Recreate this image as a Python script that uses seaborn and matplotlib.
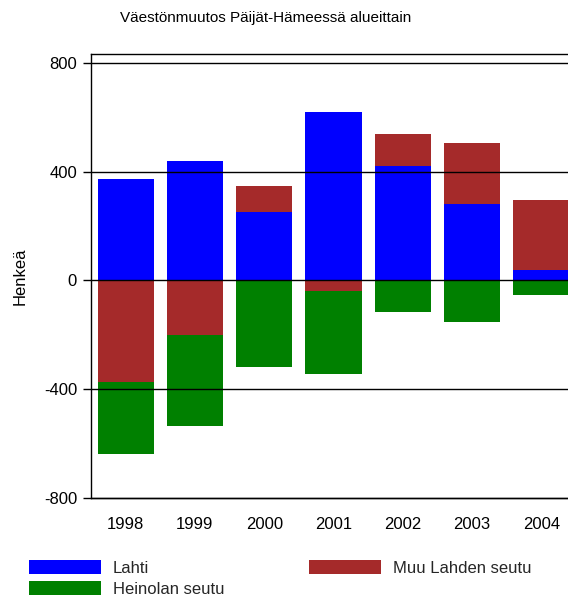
import numpy as np
import pandas as pd
import matplotlib
matplotlib.use("Agg")
import matplotlib.pyplot as plt
import seaborn as sns
from matplotlib.patches import Patch

years = ["1998", "1999", "2000", "2001", "2002", "2003", "2004"]
lahti = [372, 440, 253, 620, 422, 283, 37]
muu = [-374, -202, 96, -40, 117, 223, 260]
heinola = [-265, -334, -319, -305, -117, -154, -55]

series_names = ["Lahti", "Muu Lahden seutu", "Heinolan seutu"]
colors = {"Lahti": "#0000FF", "Muu Lahden seutu": "#A52A2A", "Heinolan seutu": "#008000"}

sns.set_theme(style="white")
plt.rcParams['font.family'] = ['Liberation Sans', 'DejaVu Sans']
plt.rcParams['axes.unicode_minus'] = False

W, H = 568, 599
fig = plt.figure(figsize=(W / 100, H / 100), dpi=100)
ax_left, ax_right, ax_top, ax_bottom = 91, 576, 54, 498
ax = fig.add_axes([ax_left / W, 1 - ax_bottom / H, (ax_right - ax_left) / W, (ax_bottom - ax_top) / H])

lahti_a = np.array(lahti, dtype=float)
muu_a = np.array(muu, dtype=float)
hei_a = np.array(heinola, dtype=float)

muu_bottom = np.where(muu_a >= 0, lahti_a, 0.0)
hei_bottom = np.minimum(muu_a, 0.0)

df = pd.DataFrame({"year": years, "Lahti": lahti_a, "Muu": muu_a, "Hei": hei_a})
w = 0.81
sns.barplot(data=df, x="year", y="Lahti", color=colors["Lahti"], saturation=1, width=w,
            errorbar=None, ax=ax, linewidth=0)
sns.barplot(data=df, x="year", y="Muu", color=colors["Muu Lahden seutu"], saturation=1, width=w,
            errorbar=None, ax=ax, linewidth=0, bottom=muu_bottom)
sns.barplot(data=df, x="year", y="Hei", color=colors["Heinolan seutu"], saturation=1, width=w,
            errorbar=None, ax=ax, linewidth=0, bottom=hei_bottom)

ax.set_xlim(-0.5, len(years) - 0.5)
ax.set_ylim(-800, 833)
yt = [-800, -400, 0, 400, 800]
ax.set_yticks(yt)
ax.set_yticklabels([str(v) for v in yt])
for yv in yt:
    ax.axhline(yv, color="black", lw=1.0, zorder=5, clip_on=False)

ax.spines["right"].set_visible(False)
for s in ["left", "top", "bottom"]:
    ax.spines[s].set_visible(True)
    ax.spines[s].set_color("black")
    ax.spines[s].set_linewidth(1.0)

ax.tick_params(axis="y", which="both", left=True, length=6, width=1, color="black",
               labelsize=12, pad=4, labelcolor="black")
ax.tick_params(axis="x", length=0, labelsize=12, pad=14, labelcolor="black")
ax.set_xlabel("")
ax.set_ylabel("Henkeä", fontsize=12, color="black")
ax.yaxis.set_label_coords((28 - ax_left) / (ax_right - ax_left), 0.5)

fig.text(266 / W, 1 - 18 / H, "Väestönmuutos Päijät-Hämeessä alueittain",
         ha="center", va="center", fontsize=11, color="black")

handles = [Patch(facecolor=colors["Lahti"], edgecolor="none", label="Lahti"),
           Patch(facecolor=colors["Heinolan seutu"], edgecolor="none", label="Heinolan seutu"),
           Patch(facecolor=colors["Muu Lahden seutu"], edgecolor="none", label="Muu Lahden seutu")]
fig.legend(handles=handles, loc="upper left", bbox_to_anchor=(29 / W, 1 - 560 / H), ncol=2,
           frameon=False, fontsize=12, handlelength=4.3, handleheight=0.96, handletextpad=0.72,
           columnspacing=5.1, labelspacing=0.3, borderpad=0, borderaxespad=0)

fig.savefig("out.png", dpi=100)
